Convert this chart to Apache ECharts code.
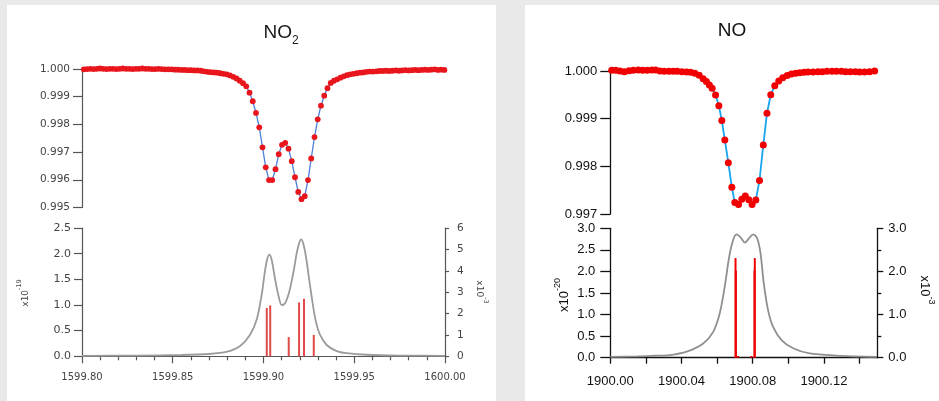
<!DOCTYPE html>
<html>
<head>
<meta charset="utf-8">
<script src="https://cdn.jsdelivr.net/npm/echarts@6/dist/echarts.min.js"></script>
<style>
  html, body { margin: 0; padding: 0; background: #e9e9e9; width: 939px; height: 401px; overflow: hidden; }
  .panel { position: absolute; background: #fff; }
  #no2 { left: 7px; top: 5px; width: 489px; height: 396px; filter: blur(0.4px); }
  #no  { left: 525px; top: 5px; width: 414px; height: 396px; }
</style>
</head>
<body>
<div id="no2" class="panel"></div>
<div id="no" class="panel"></div>
<script>
// ---------- NO2 band, 1599.80 – 1600.00 cm-1 ----------
// measured transmission on a uniform wavenumber grid
const NO2_GRID_START = 1599.801;   // cm-1, first sample
const NO2_GRID_STEP = 0.00179;     // cm-1, sample spacing
const no2Trans = [
  0.99998, 0.99999, 1.00000, 0.99999, 1.00000, 1.00001, 1.00000, 0.99999, 1.00000, 1.00000,
  0.99999, 1.00000, 1.00001, 1.00000, 1.00000, 0.99999, 1.00000, 1.00000, 1.00001, 1.00000,
  1.00000, 0.99999, 0.99999, 1.00000, 0.99999, 0.99998, 0.99998, 0.99998, 0.99997, 0.99997,
  0.99996, 0.99996, 0.99995, 0.99995, 0.99994, 0.99994, 0.99993, 0.99991, 0.99989, 0.99988,
  0.99987, 0.99986, 0.99984, 0.99982, 0.99980, 0.99976, 0.99971, 0.99965, 0.99957, 0.99948,
  0.99937, 0.99914, 0.99883, 0.99841, 0.99789, 0.99717, 0.99645, 0.99599, 0.99599, 0.99638,
  0.99692, 0.99726, 0.99733, 0.99712, 0.99667, 0.99609, 0.99556, 0.99530, 0.99541, 0.99599,
  0.99677, 0.99754, 0.99818, 0.99867, 0.99903, 0.99930, 0.99949, 0.99957, 0.99962, 0.99968,
  0.99973, 0.99977, 0.99980, 0.99982, 0.99984, 0.99986, 0.99987, 0.99989, 0.99990, 0.99990,
  0.99991, 0.99992, 0.99992, 0.99993, 0.99992, 0.99993, 0.99994, 0.99993, 0.99994, 0.99995,
  0.99994, 0.99995, 0.99996, 0.99995, 0.99996, 0.99997, 0.99996, 0.99997, 0.99998, 0.99996,
  0.99997, 0.99996
];
// absorption cross-section (x1e-19)
const no2XsecWn = [
  1599.8000, 1599.8300, 1599.8550, 1599.8700, 1599.8800, 1599.8871, 1599.8926, 1599.8963,
  1599.8990, 1599.9008, 1599.9021, 1599.9032, 1599.9045, 1599.9063, 1599.9082, 1599.9100,
  1599.9118, 1599.9142, 1599.9164, 1599.9183, 1599.9196, 1599.9207, 1599.9219, 1599.9234,
  1599.9252, 1599.9271, 1599.9289, 1599.9311, 1599.9348, 1599.9403, 1599.9458, 1599.9569,
  1599.9752, 1600.0000
];
const no2XsecVal = [
  0.010, 0.015, 0.025, 0.045, 0.090, 0.200, 0.420, 0.720,
  1.200, 1.660, 1.900, 1.980, 1.880, 1.520, 1.190, 1.000,
  1.030, 1.260, 1.620, 2.010, 2.200, 2.280, 2.200, 1.940,
  1.490, 1.030, 0.670, 0.420, 0.220, 0.100, 0.060, 0.030,
  0.015, 0.010
];
// line positions and intensities (x1e-3, right axis)
const no2LineWn = [1599.9018, 1599.9037, 1599.9139, 1599.9196, 1599.9223, 1599.9277];
const no2LineS  = [2.26, 2.38, 0.90, 2.52, 2.69, 1.00];

// ---------- NO band, 1900.00 – 1900.15 cm-1 ----------
const noWn = [
  1900.00079, 1900.00303, 1900.00544, 1900.00785, 1900.01049, 1900.01290, 1900.01571, 1900.01818,
  1900.02076, 1900.02339, 1900.02547, 1900.02788, 1900.03029, 1900.03293, 1900.03534, 1900.03759,
  1900.04022, 1900.04286, 1900.04511, 1900.04752, 1900.04993, 1900.05217, 1900.05397, 1900.05565,
  1900.05722, 1900.05913, 1900.06098, 1900.06266, 1900.06435, 1900.06631, 1900.06827, 1900.06996,
  1900.07203, 1900.07389, 1900.07585, 1900.07781, 1900.07966, 1900.08174, 1900.08381, 1900.08595,
  1900.08802, 1900.09015, 1900.09240, 1900.09464, 1900.09689, 1900.09941, 1900.10177, 1900.10418,
  1900.10642, 1900.10884, 1900.11108, 1900.11389, 1900.11669, 1900.11916, 1900.12174, 1900.12454,
  1900.12701, 1900.12982, 1900.13223, 1900.13487, 1900.13767, 1900.14008, 1900.14289, 1900.14569,
  1900.14850
];
const noTrans = [
  1.000015, 1.000015, 1.000000, 0.999985, 1.000006, 1.000015, 1.000021, 1.000015,
  1.000015, 1.000021, 1.000021, 1.000000, 0.999994, 0.999994, 0.999994, 0.999994,
  0.999985, 0.999979, 0.999973, 0.999952, 0.999910, 0.999838, 0.999780, 0.999706,
  0.999637, 0.999496, 0.999272, 0.998961, 0.998552, 0.998076, 0.997560, 0.997241,
  0.997199, 0.997308, 0.997378, 0.997300, 0.997199, 0.997294, 0.997703, 0.998448,
  0.999113, 0.999501, 0.999692, 0.999790, 0.999859, 0.999906, 0.999937, 0.999952,
  0.999964, 0.999973, 0.999979, 0.999979, 0.999985, 0.999985, 0.999994, 0.999994,
  0.999994, 0.999994, 0.999985, 0.999985, 0.999985, 0.999979, 0.999979, 0.999985,
  1.000000
];
// absorption cross-section (x1e-20)
const noXsecWn = [
  1900.0000, 1900.0150, 1900.0250, 1900.0335, 1900.0429, 1900.0522, 1900.0578, 1900.0615,
  1900.0643, 1900.0668, 1900.0690, 1900.0709, 1900.0732, 1900.0756, 1900.0780, 1900.0802,
  1900.0825, 1900.0844, 1900.0862, 1900.0886, 1900.0914, 1900.0962, 1900.1027, 1900.1120,
  1900.1270, 1900.1495
];
const noXsecVal = [
  0.02, 0.03, 0.045, 0.06, 0.14, 0.33, 0.60, 1.03,
  1.65, 2.34, 2.73, 2.86, 2.79, 2.67, 2.77, 2.86,
  2.77, 2.42, 1.73, 1.11, 0.72, 0.41, 0.22, 0.10,
  0.05, 0.02
];
// line positions and intensities (x1e-3, right axis)
const noLineWn = [1900.07035, 1900.07055, 1900.0718, 1900.0793, 1900.08100, 1900.08118];
const noLineS  = [2.31, 2.02, 0.04, 0.04, 2.02, 2.31];
// wavenumber axis ticks and labels
const noXTickValues  = [1900.00, 1900.02, 1900.04, 1900.06, 1900.08, 1900.10, 1900.12, 1900.14];
const noXLabelValues = [1900.00, 1900.04, 1900.08, 1900.12];

// ---------- helpers ----------
const zip = (a, b) => a.map((v, i) => [v, b[i]]);

function stickRenderer(color, width) {
  return function (params, api) {
    const base = api.coord([api.value(0), 0]);
    const tip = api.coord([api.value(0), api.value(1)]);
    return {
      type: 'line',
      shape: { x1: base[0], y1: base[1], x2: tip[0], y2: tip[1] },
      style: { stroke: color, lineWidth: width }
    };
  };
}

function axisStyle(color, width) {
  return { show: true, onZero: false, lineStyle: { color: color, width: width } };
}

function rotatedLabel(x, y, rot, main, sup, size, supSize, color, font) {
  return {
    type: 'text', x: x, y: y, rotation: rot,
    style: {
      text: '{n|' + main + '}{s|' + sup + '}',
      align: 'center', verticalAlign: 'middle', fill: color,
      rich: {
        n: { fontSize: size, fontFamily: font, fill: color, lineHeight: size + 5, verticalAlign: 'bottom' },
        s: { fontSize: supSize, fontFamily: font, fill: color, verticalAlign: 'top' }
      }
    }
  };
}

// ---------- NO2 panel ----------
const c2 = '#555';
const f2 = 'DejaVu Sans';
const no2Chart = echarts.init(document.getElementById('no2'), null, { renderer: 'canvas' });
no2Chart.setOption({
  animation: false,
  graphic: [
    {
      type: 'text', x: 274, y: 30,
      style: {
        text: '{a|NO}{b|2}', align: 'center', verticalAlign: 'middle', fill: '#1a1a1a',
        rich: {
          a: { fontSize: 19, fontFamily: 'Liberation Sans', fill: '#1a1a1a', lineHeight: 24, verticalAlign: 'top' },
          b: { fontSize: 12, fontFamily: 'Liberation Sans', fill: '#1a1a1a', lineHeight: 12, verticalAlign: 'bottom' }
        }
      }
    },
    rotatedLabel(16, 288, Math.PI / 2, 'x10', '-19', 9, 6.5, '#444', f2),
    rotatedLabel(475, 287, -Math.PI / 2, 'x10', '-3', 9, 6.5, '#444', f2)
  ],
  grid: [
    { left: 75, top: 63.8, width: 363, height: 138.7 },
    { left: 75, top: 223, width: 363, height: 128.3 }
  ],
  xAxis: [
    { gridIndex: 0, type: 'value', min: 1599.8, max: 1600.0, show: false },
    {
      gridIndex: 1, type: 'value', min: 1599.8, max: 1600.0, interval: 0.05,
      axisLine: axisStyle(c2, 1.2),
      axisTick: { show: true, length: 7, lineStyle: { color: c2, width: 1.2 } },
      minorTick: { show: true, splitNumber: 5, length: 4, lineStyle: { color: c2, width: 1.2 } },
      axisLabel: { margin: 16, fontSize: 10, color: '#444', fontFamily: f2, formatter: v => v.toFixed(2) },
      splitLine: { show: false }, minorSplitLine: { show: false }
    }
  ],
  yAxis: [
    {
      gridIndex: 0, type: 'value', min: 0.995, max: 1.0, interval: 0.001,
      axisLine: axisStyle(c2, 1.2),
      axisTick: { show: true, length: 9, lineStyle: { color: c2, width: 1.2 } },
      axisLabel: { margin: 12, fontSize: 10.5, color: '#444', fontFamily: f2, formatter: v => v.toFixed(3) },
      splitLine: { show: false }
    },
    {
      gridIndex: 1, type: 'value', min: 0, max: 2.5, interval: 0.5,
      axisLine: axisStyle(c2, 1.2),
      axisTick: { show: true, length: 8, lineStyle: { color: c2, width: 1.2 } },
      axisLabel: { margin: 11, fontSize: 11, color: '#444', fontFamily: f2, formatter: v => v.toFixed(1) },
      splitLine: { show: false }
    },
    {
      gridIndex: 1, type: 'value', position: 'right', min: 0, max: 6, interval: 1,
      axisLine: axisStyle(c2, 1.2),
      axisTick: { show: true, length: 4, lineStyle: { color: c2, width: 1.2 } },
      axisLabel: { margin: 12, fontSize: 10.5, color: '#444', fontFamily: f2, formatter: v => String(Math.round(v)) },
      splitLine: { show: false }
    }
  ],
  series: [
    {
      type: 'line', xAxisIndex: 0, yAxisIndex: 0, silent: true, clip: false, z: 3,
      data: no2Trans.map((v, i) => [NO2_GRID_START + i * NO2_GRID_STEP, v]),
      symbol: 'circle', symbolSize: 5.8, showSymbol: true, showAllSymbol: true,
      lineStyle: { color: '#4d80dc', width: 1.3 },
      itemStyle: { color: '#e8161c', borderWidth: 0 }
    },
    {
      type: 'line', xAxisIndex: 1, yAxisIndex: 1, silent: true, z: 2,
      data: zip(no2XsecWn, no2XsecVal), symbol: 'none', smooth: 0.3,
      lineStyle: { color: '#9b9b9b', width: 1.8 }
    },
    {
      type: 'custom', xAxisIndex: 1, yAxisIndex: 2, silent: true, z: 3,
      data: zip(no2LineWn, no2LineS), renderItem: stickRenderer('#e24a4a', 2)
    }
  ]
});

// ---------- NO panel ----------
const c1 = '#111';
const f1 = 'Liberation Sans';
const noChart = echarts.init(document.getElementById('no'), null, { renderer: 'canvas' });
noChart.setOption({
  animation: false,
  graphic: [
    {
      type: 'text', x: 207, y: 26,
      style: { text: 'NO', align: 'center', verticalAlign: 'middle', fill: '#111', fontSize: 19, fontFamily: f1 }
    },
    rotatedLabel(37, 290, Math.PI / 2, 'x10', '-20', 13, 9, '#111', f1),
    rotatedLabel(402, 285, -Math.PI / 2, 'x10', '-3', 13, 9, '#111', f1)
  ],
  grid: [
    { left: 85.3, top: 66, width: 267, height: 143 },
    { left: 85.3, top: 223.3, width: 267, height: 129.4 }
  ],
  xAxis: [
    { gridIndex: 0, type: 'value', min: 1900.0, max: 1900.15, show: false },
    {
      gridIndex: 1, type: 'value', min: 1900.0, max: 1900.15,
      axisLine: axisStyle(c1, 1.3),
      axisTick: { show: true, length: 6, customValues: noXTickValues, lineStyle: { color: c1, width: 1.3 } },
      axisLabel: { margin: 17, fontSize: 13, color: '#111', fontFamily: f1, customValues: noXLabelValues, formatter: v => v.toFixed(2) },
      splitLine: { show: false }
    }
  ],
  yAxis: [
    {
      gridIndex: 0, type: 'value', min: 0.997, max: 1.0, interval: 0.001,
      axisLine: axisStyle(c1, 1.3),
      axisTick: { show: true, length: 10, lineStyle: { color: c1, width: 1.3 } },
      axisLabel: { margin: 13, fontSize: 13, color: '#111', fontFamily: f1, formatter: v => v.toFixed(3) },
      splitLine: { show: false }
    },
    {
      gridIndex: 1, type: 'value', min: 0, max: 3, interval: 0.5,
      axisLine: axisStyle(c1, 1.3),
      axisTick: { show: true, length: 10, lineStyle: { color: c1, width: 1.3 } },
      axisLabel: { margin: 15, fontSize: 13, color: '#111', fontFamily: f1, formatter: v => v.toFixed(1) },
      splitLine: { show: false }
    },
    {
      gridIndex: 1, type: 'value', position: 'right', min: 0, max: 3, interval: 1,
      axisLine: axisStyle(c1, 1.3),
      axisTick: { show: true, length: 6, lineStyle: { color: c1, width: 1.3 } },
      minorTick: { show: true, splitNumber: 2, length: 4, lineStyle: { color: c1, width: 1.3 } },
      axisLabel: { margin: 11, fontSize: 13, color: '#111', fontFamily: f1, formatter: v => v.toFixed(1) },
      splitLine: { show: false }, minorSplitLine: { show: false }
    }
  ],
  series: [
    {
      type: 'line', xAxisIndex: 0, yAxisIndex: 0, silent: true, clip: false, z: 3,
      data: zip(noWn, noTrans),
      symbol: 'circle', symbolSize: 7, showSymbol: true, showAllSymbol: true,
      lineStyle: { color: '#18a4f0', width: 1.8 },
      itemStyle: { color: '#f00000', borderWidth: 0 }
    },
    {
      type: 'line', xAxisIndex: 1, yAxisIndex: 1, silent: true, z: 2,
      data: zip(noXsecWn, noXsecVal), symbol: 'none', smooth: 0.3,
      lineStyle: { color: '#8f8f8f', width: 1.8 }
    },
    {
      type: 'custom', xAxisIndex: 1, yAxisIndex: 2, silent: true, z: 3,
      data: zip(noLineWn, noLineS), renderItem: stickRenderer('#f00000', 2)
    }
  ]
});
</script>
</body>
</html>
